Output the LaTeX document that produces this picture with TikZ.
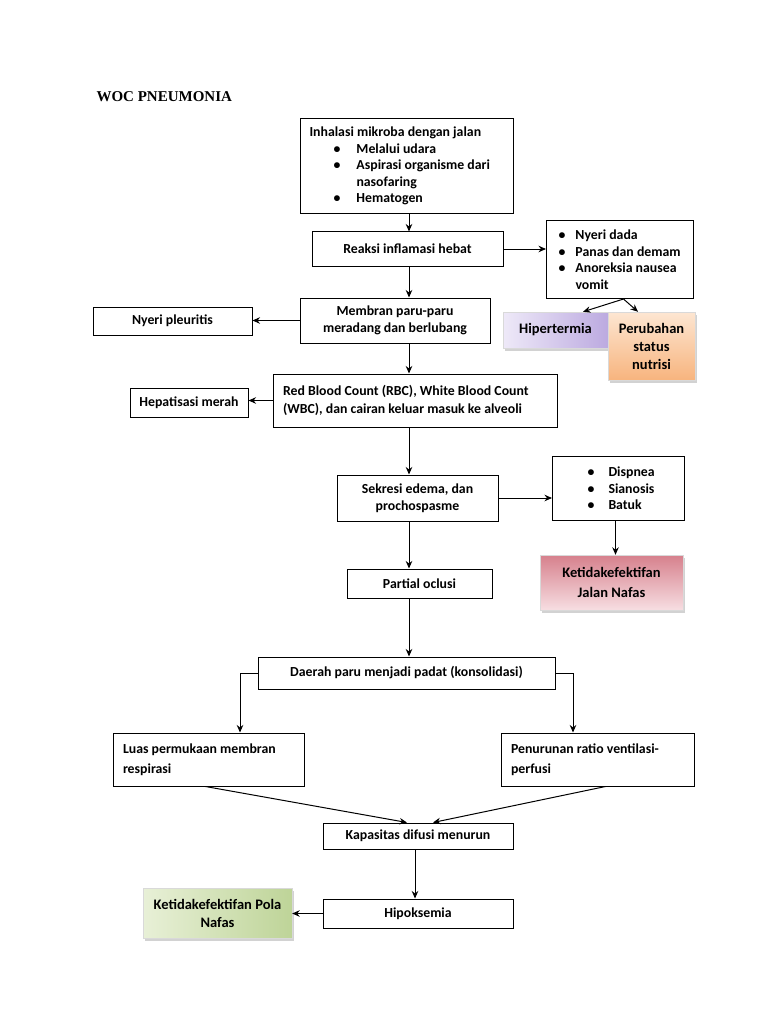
\documentclass[tikz,border=0pt]{standalone}
\usepackage{fontspec}
\setmainfont{Carlito}
\newfontfamily\titlefont{Liberation Serif}
\usetikzlibrary{arrows.meta,shadows}
\definecolor{hiperA}{RGB}{238,233,248}
\definecolor{hiperB}{RGB}{188,170,224}
\definecolor{nutriA}{RGB}{253,230,210}
\definecolor{nutriB}{RGB}{247,180,126}
\definecolor{jalanA}{RGB}{214,128,140}
\definecolor{jalanB}{RGB}{247,222,226}
\definecolor{polaA}{RGB}{232,240,215}
\definecolor{polaB}{RGB}{190,212,152}
\newcommand{\butir}[1]{\makebox[17pt][l]{\textbullet}#1}
\begin{document}
\begin{tikzpicture}[x=1pt,y=-1pt,
   every node/.style={font=\fontsize{13.8}{16.5}\selectfont\bfseries},
   box/.style={draw,line width=1pt,inner sep=4pt,align=center},
   arr/.style={-{Stealth[length=7.5pt,width=6.5pt]},line width=1pt},
   hasil/.style={align=center,inner sep=3pt,draw=black!15,line width=0.4pt,
     font=\fontsize{14.5}{18}\selectfont\bfseries,
     drop shadow={shadow xshift=2pt,shadow yshift=-2.5pt,fill=black!35}}]
   \fill[white] (0,0) rectangle (768,1024);
   \useasboundingbox (0,0) rectangle (768,1024);
   \coordinate (spine) at (409,0);
   \node[anchor=west,font=\titlefont\fontsize{15}{18}\selectfont\bfseries] (judul) at (93,97) {WOC PNEUMONIA};
   \node[box,anchor=north west,align=flush left,text width=195pt,inner xsep=9pt,minimum height=95pt] (inhal) at (300,118)
     {Inhalasi mikroba dengan jalan\\
      \hspace*{24pt}\makebox[23pt][l]{\textbullet}Melalui udara\\
      \hspace*{24pt}\makebox[23pt][l]{\textbullet}Aspirasi organisme dari\\
      \hspace*{47pt}nasofaring\\
      \hspace*{24pt}\makebox[23pt][l]{\textbullet}Hematogen};
   \node[box,minimum width=191pt,minimum height=34pt] (reaksi) at (407.5,249) {Reaksi inflamasi hebat};
   \node[box,anchor=north west,align=flush left,text width=127pt,inner xsep=10pt,minimum height=78pt] (gejala1) at (546,220)
     {\hspace*{2pt}\butir{Nyeri dada}\\
      \hspace*{2pt}\butir{Panas dan demam}\\
      \hspace*{2pt}\butir{Anoreksia nausea}\\
      \hspace*{19pt}vomit};
   \node[hasil,left color=hiperA,right color=hiperB,minimum width=105pt,minimum height=36pt] (hiper) at (555.5,330) {Hipertermia};
   \node[hasil,top color=nutriA,bottom color=nutriB,minimum width=87pt,minimum height=68pt] (nutrisi) at (651.5,346) {Perubahan\\status\\nutrisi};
   \node[box,minimum width=190pt,minimum height=45pt] (membran) at (395,320.5) {Membran paru-paru\\meradang dan berlubang};
   \node[box,minimum width=159pt,minimum height=28pt] (pleur) at (172.5,321) {Nyeri pleuritis};
   \node[box,align=flush left,text width=264pt,inner xsep=10pt,minimum height=53pt] (rbc) at (415,400.5)
     {Red Blood Count (RBC), White Blood Count\\[2pt](WBC), dan cairan keluar masuk ke alveoli};
   \node[box,minimum width=118pt,minimum height=29pt] (hepat) at (189,402.5) {Hepatisasi merah};
   \node[box,minimum width=161pt,minimum height=46pt] (sekresi) at (417.5,498) {Sekresi edema, dan\\prochospasme};
   \node[box,anchor=north west,align=flush left,text width=112pt,inner xsep=10pt,minimum height=64pt] (gejala2) at (552,456)
     {\hspace*{25pt}\makebox[21pt][l]{\textbullet}Dispnea\\
      \hspace*{25pt}\makebox[21pt][l]{\textbullet}Sianosis\\
      \hspace*{25pt}\makebox[21pt][l]{\textbullet}Batuk};
   \node[hasil,top color=jalanA,bottom color=jalanB,minimum width=143pt,minimum height=55pt] (jalan) at (611.5,582.5) {Ketidakefektifan\\[2pt]Jalan Nafas};
   \node[box,minimum width=145pt,minimum height=29pt] (partial) at (419.5,583.5) {Partial oclusi};
   \node[box,minimum width=297pt,minimum height=32pt] (daerah) at (406.5,673) {Daerah paru menjadi padat (konsolidasi)};
   \node[box,align=flush left,text width=171pt,inner xsep=10pt,minimum height=53pt] (luas) at (208.5,759.5) {Luas permukaan membran\\[3pt]respirasi};
   \node[box,align=flush left,text width=173pt,inner xsep=10pt,minimum height=53pt] (penurunan) at (597.5,759.5) {Penurunan ratio ventilasi-\\[3pt]perfusi};
   \node[box,minimum width=190pt,minimum height=26pt] (kapasitas) at (418,836) {Kapasitas difusi menurun};
   \node[box,minimum width=190pt,minimum height=29pt] (hipoks) at (418,913.5) {Hipoksemia};
   \node[hasil,left color=polaA,right color=polaB,minimum width=149pt,minimum height=50pt] (pola) at (217.5,913) {Ketidakefektifan Pola\\Nafas};
   \draw[arr] (inhal.south -| spine) -- (reaksi.north -| spine);
   \draw[arr] (reaksi.east) -- (gejala1.west |- reaksi.east);
   \draw[arr] ([xshift=3.5pt]gejala1.south) -- ([xshift=27.5pt]hiper.north);
   \draw[arr] ([xshift=3.5pt]gejala1.south) -- ([xshift=-13.5pt]nutrisi.north);
   \draw[arr] (reaksi.south -| spine) -- (membran.north -| spine);
   \draw[arr] (membran.west) -- (pleur.east |- membran.west);
   \draw[arr] (membran.south -| spine) -- (rbc.north -| spine);
   \draw[arr] (rbc.west) -- (hepat.east |- rbc.west);
   \draw[arr] (rbc.south -| spine) -- (sekresi.north -| spine);
   \draw[arr] (sekresi.east) -- (gejala2.west |- sekresi.east);
   \draw[arr] ([xshift=-3pt]gejala2.south) -- ([xshift=-3pt]gejala2.south |- jalan.north);
   \draw[arr] (sekresi.south -| spine) -- (partial.north -| spine);
   \draw[arr] (partial.south -| spine) -- (daerah.north -| spine);
   \draw[arr] (daerah.west) -| ([xshift=31.5pt]luas.north);
   \draw[arr] (daerah.east) -| ([xshift=-24.5pt]penurunan.north);
   \draw[arr] ([xshift=-3pt]luas.south) -- ([xshift=-11pt]kapasitas.north);
   \draw[arr] ([xshift=8pt]penurunan.south) -- ([xshift=15pt]kapasitas.north);
   \draw[arr] ([xshift=-3pt]kapasitas.south) -- ([xshift=-3pt]kapasitas.south |- hipoks.north);
   \draw[arr] (hipoks.west) -- (pola.east |- hipoks.west);
  \end{tikzpicture}
\end{document}
